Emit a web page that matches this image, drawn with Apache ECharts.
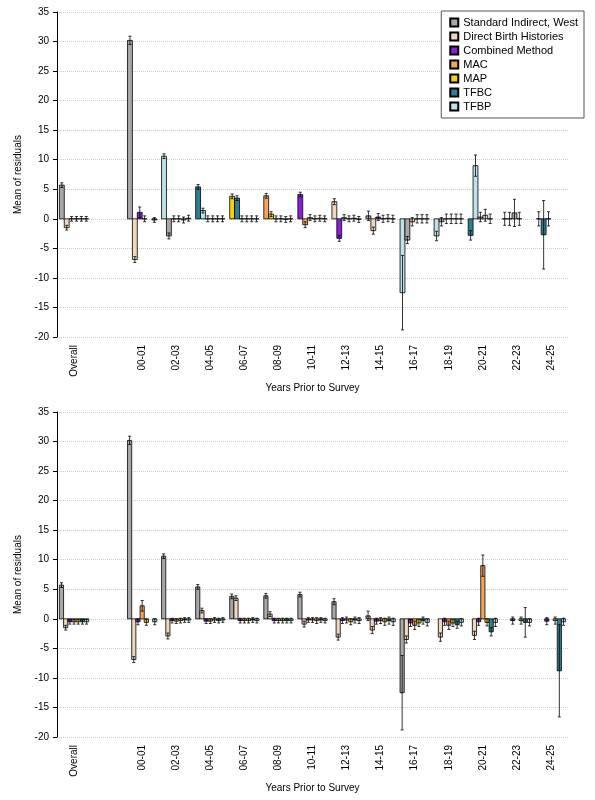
<!DOCTYPE html>
<html>
<head>
<meta charset="utf-8">
<script src="https://cdn.jsdelivr.net/npm/echarts@6/dist/echarts.min.js"></script>
<style>html,body{margin:0;padding:0;background:#fff}#chart{width:595px;height:800px}</style>
</head>
<body>
<div id="chart"></div>
<script>
var categories = ['Overall', '', '00-01', '02-03', '04-05', '06-07', '08-09', '10-11', '12-13', '14-15', '16-17', '18-19', '20-21', '22-23', '24-25'];
var methods = ['Standard Indirect, West', 'Direct Birth Histories', 'Combined Method', 'MAC', 'MAP', 'TFBC', 'TFBP'];
var colors = ['#A8A8A8', '#F0D6BC', '#8A1FD8', '#F6A35C', '#F6D20A', '#2F7F93', '#BCE2EC'];

// top panel: 6 bars per group, values per bar slot (rows = categories)
var topValues = [
  [5.7, -1.5, 0, 0, 0, 0],
  [null, null, null, null, null, null],
  [30.2, -6.9, 1.1, 0, null, -0.2],
  [10.6, -2.9, 0, 0, -0.2, 0.1],
  [5.4, 1.4, 0, 0, 0, 0],
  [3.8, 3.5, 0, 0, 0, 0],
  [3.9, 0.8, 0, 0, -0.1, 0],
  [4.1, -1.0, 0.2, 0, 0.1, 0],
  [2.9, -3.3, 0.2, 0, 0.1, -0.1],
  [0.5, -2.0, 0.3, 0, 0.1, 0],
  [-12.5, -3.6, -0.5, 0, 0, 0],
  [-2.9, -0.5, 0, 0, 0, 0],
  [-2.8, 9.0, 0.3, 0.6, 0, null],
  [0, 0, 1.0, 0, null, null],
  [0, -2.7, 0, null, null, null]
];
var topErr = [
  [0.4, 0.4, 0.4, 0.4, 0.4, 0.4],
  [0, 0, 0, 0, 0, 0],
  [0.7, 0.5, 0.9, 0.5, 0, 0.4],
  [0.4, 0.5, 0.5, 0.5, 0.5, 0.5],
  [0.4, 0.4, 0.5, 0.5, 0.5, 0.5],
  [0.4, 0.4, 0.5, 0.5, 0.5, 0.5],
  [0.4, 0.4, 0.5, 0.5, 0.5, 0.5],
  [0.4, 0.5, 0.5, 0.5, 0.5, 0.5],
  [0.5, 0.5, 0.5, 0.5, 0.5, 0.5],
  [0.8, 0.6, 0.6, 0.6, 0.6, 0.6],
  [6.3, 0.6, 0.7, 0.7, 0.7, 0.7],
  [0.8, 0.7, 0.8, 0.8, 0.8, 0.8],
  [0.8, 1.8, 0.8, 1.0, 0.8, 0],
  [1.1, 1.1, 2.3, 1.1, 0, 0],
  [1.2, 5.8, 1.2, 0, 0, 0]
];
var topColorStart = [0, 0, 0, 6, 5, 4, 3, 2, 1, 0, 6, 6, 5, 5, 4];

// bottom panel: one value per method (rows = categories)
var bottomValues = [
  [5.7, -1.5, -0.5, -0.5, -0.5, -0.5, -0.5],
  [null, null, null, null, null, null, null],
  [30.2, -6.9, -0.5, 2.2, -0.6, null, -0.5],
  [10.6, -2.9, -0.3, -0.4, -0.3, -0.2, -0.2],
  [5.4, 1.4, -0.4, -0.4, -0.2, -0.3, -0.2],
  [3.8, 3.5, -0.3, -0.3, -0.3, -0.2, -0.3],
  [3.9, 0.8, -0.3, -0.3, -0.3, -0.3, -0.3],
  [4.1, -0.9, -0.2, -0.2, -0.3, -0.2, -0.3],
  [2.9, -3.1, -0.3, -0.2, -0.5, -0.2, -0.3],
  [0.5, -1.9, -0.4, -0.3, -0.5, -0.3, -0.5],
  [-12.5, -3.5, -0.7, -1.1, -0.7, -0.3, -0.6],
  [null, -3.1, -0.5, -1.1, -0.7, -1.0, -0.6],
  [null, -2.8, -0.5, 9.0, -0.6, -2.2, -0.6],
  [null, null, -0.3, null, -0.3, -0.6, -0.6],
  [null, null, -0.4, null, -0.3, -8.8, -0.5]
];
var bottomErr = [
  [0.4, 0.4, 0.4, 0.4, 0.4, 0.4, 0.4],
  [0, 0, 0, 0, 0, 0, 0],
  [0.7, 0.5, 0.5, 0.9, 0.5, 0, 0.5],
  [0.4, 0.5, 0.4, 0.4, 0.4, 0.4, 0.4],
  [0.4, 0.4, 0.4, 0.4, 0.4, 0.4, 0.4],
  [0.4, 0.4, 0.4, 0.4, 0.4, 0.4, 0.4],
  [0.4, 0.4, 0.4, 0.4, 0.4, 0.4, 0.4],
  [0.4, 0.5, 0.4, 0.4, 0.5, 0.4, 0.4],
  [0.5, 0.5, 0.5, 0.5, 0.5, 0.5, 0.5],
  [0.8, 0.6, 0.5, 0.5, 0.6, 0.6, 0.6],
  [6.3, 0.6, 0.6, 0.7, 0.6, 0.6, 0.6],
  [0, 0.7, 0.6, 0.7, 0.6, 0.6, 0.6],
  [0, 0.7, 0.6, 1.8, 0.6, 0.7, 0.7],
  [0, 0, 0.6, 0, 0.6, 2.5, 0.6],
  [0, 0, 0.6, 0, 0.6, 7.8, 0.6]
];

var chart = echarts.init(document.getElementById('chart'));

function makeRender(slot, nSlots) {
  return function (params, api) {
    var v = api.value(1);
    if (v == null || isNaN(v)) return;
    var c = api.value(0);
    var groupW = api.size([1, 0])[0] * 0.86;
    var bw = groupW / nSlots;
    var base = api.coord([c, 0]);
    var top = api.coord([c, v]);
    var x = base[0] - groupW / 2 + slot * bw;
    var lo = api.coord([c, v - api.value(2)])[1];
    var hi = api.coord([c, v + api.value(2)])[1];
    var cx = x + bw / 2;
    var col = api.value(3) >= 0 ? colors[api.value(3)] : api.visual('color');
    return {
      type: 'group',
      children: [
        { type: 'rect', shape: { x: x, y: Math.min(base[1], top[1]), width: bw, height: Math.abs(base[1] - top[1]) },
          style: { fill: col, stroke: '#000', lineWidth: 0.8 } },
        { type: 'line', shape: { x1: cx, y1: lo, x2: cx, y2: hi }, style: { stroke: '#000', lineWidth: 0.8 } },
        { type: 'line', shape: { x1: cx - 1.5, y1: lo, x2: cx + 1.5, y2: lo }, style: { stroke: '#000', lineWidth: 0.8 } },
        { type: 'line', shape: { x1: cx - 1.5, y1: hi, x2: cx + 1.5, y2: hi }, style: { stroke: '#000', lineWidth: 0.8 } }
      ]
    };
  };
}

function yAxis(idx) {
  return {
    gridIndex: idx, type: 'value', min: -20, max: 35, interval: 5,
    name: 'Mean of residuals', nameLocation: 'middle', nameGap: 34,
    nameTextStyle: { fontSize: 10, color: '#000', fontFamily: 'Liberation Sans' },
    axisLine: { show: true, lineStyle: { color: '#000' } },
    axisTick: { show: true, length: 4, lineStyle: { color: '#000' } },
    axisLabel: { fontSize: 10, color: '#000', fontFamily: 'Liberation Sans' },
    splitLine: { lineStyle: { type: 'dotted', color: '#ccc' } }
  };
}
function xAxis(idx) {
  return {
    gridIndex: idx, type: 'category', data: categories,
    name: 'Years Prior to Survey', nameLocation: 'middle', nameGap: 46,
    nameTextStyle: { fontSize: 10, color: '#000', fontFamily: 'Liberation Sans' },
    axisLine: { show: false }, axisTick: { show: false },
    axisLabel: { rotate: 90, fontSize: 10, color: '#000', interval: 0, fontFamily: 'Liberation Sans' }
  };
}

var series = [];
for (var s = 0; s < 6; s++) {
  series.push({
    type: 'custom', name: 'top' + s, xAxisIndex: 0, yAxisIndex: 0,
    renderItem: makeRender(s, 6),
    data: categories.map(function (c, i) {
      return [i, topValues[i][s], topErr[i][s], (topColorStart[i] + s) % 7];
    })
  });
}
methods.forEach(function (m, s) {
  series.push({
    type: 'custom', name: m, xAxisIndex: 1, yAxisIndex: 1,
    itemStyle: { color: colors[s], borderColor: '#000', borderWidth: 1 },
    renderItem: makeRender(s, 7),
    data: categories.map(function (c, i) {
      return [i, bottomValues[i][s], bottomErr[i][s], s];
    })
  });
});

chart.setOption({
  animation: false,
  textStyle: { fontFamily: 'Liberation Sans' },
  grid: [
    { left: 57, right: 27, top: 12, height: 325 },
    { left: 57, right: 27, top: 412, height: 325 }
  ],
  xAxis: [xAxis(0), xAxis(1)],
  yAxis: [yAxis(0), yAxis(1)],
  legend: {
    data: methods, orient: 'vertical', right: 11, top: 11,
    itemWidth: 8, itemHeight: 8, itemGap: 3, padding: [6, 6, 6, 8],
    borderColor: '#555', borderWidth: 1, backgroundColor: '#fff',
    textStyle: { fontSize: 11, color: '#000' },
    icon: 'rect'
  },
  series: series
});
</script>
</body>
</html>
